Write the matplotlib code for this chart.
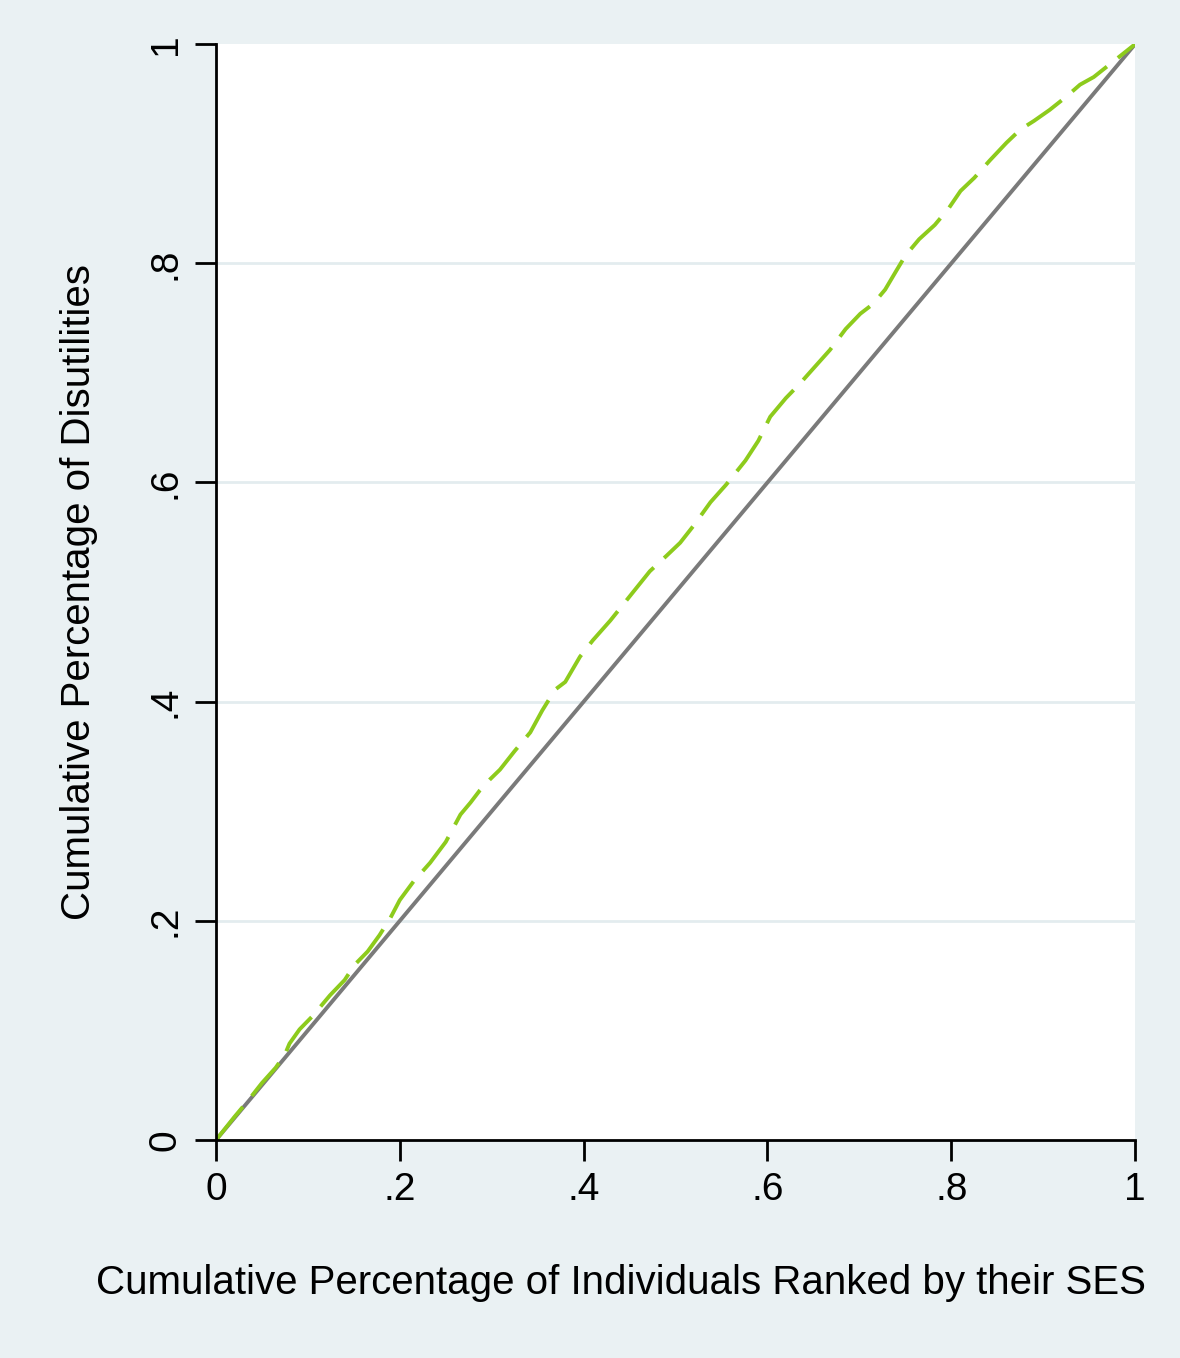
import matplotlib.pyplot as plt

# Concentration curve points
x_curve = [0, 0.02, 0.035, 0.05, 0.065, 0.075, 0.08, 0.091, 0.105, 0.124, 0.14, 0.151,
           0.165, 0.178, 0.19, 0.2, 0.215, 0.233, 0.25, 0.266, 0.277, 0.287, 0.298,
           0.309, 0.325, 0.342, 0.355, 0.369, 0.38, 0.396, 0.41, 0.429, 0.45, 0.472,
           0.49, 0.505, 0.52, 0.538, 0.555, 0.576, 0.59, 0.603, 0.62, 0.635, 0.652,
           0.668, 0.685, 0.701, 0.715, 0.728, 0.74, 0.75, 0.765, 0.782, 0.797, 0.81,
           0.825, 0.842, 0.86, 0.875, 0.89, 0.907, 0.925, 0.94, 0.955, 0.973, 0.985, 1.0]
y_curve = [0, 0.021, 0.036, 0.052, 0.066, 0.078, 0.088, 0.101, 0.113, 0.132, 0.146, 0.160,
           0.172, 0.187, 0.203, 0.219, 0.236, 0.253, 0.272, 0.297, 0.308, 0.319, 0.329,
           0.338, 0.355, 0.372, 0.392, 0.411, 0.418, 0.441, 0.456, 0.474, 0.496, 0.519,
           0.533, 0.545, 0.561, 0.582, 0.598, 0.620, 0.638, 0.660, 0.677, 0.690, 0.706,
           0.721, 0.740, 0.754, 0.763, 0.776, 0.793, 0.807, 0.822, 0.835, 0.850, 0.866,
           0.878, 0.894, 0.910, 0.922, 0.930, 0.940, 0.952, 0.963, 0.970, 0.982, 0.990, 1.0]

ticks = [0, 0.2, 0.4, 0.6, 0.8, 1]
tick_labels = ['0', '.2', '.4', '.6', '.8', '1']

plt.rcParams['font.family'] = ['Liberation Sans', 'DejaVu Sans']

bg = '#EAF1F3'
fig = plt.figure(figsize=(11.8, 13.58), dpi=100, facecolor=bg)
ax = fig.add_axes([0.183, 0.1605, 0.779, 0.807])
ax.set_facecolor('white')

# grid lines
for t in ticks[1:-1]:
    ax.axhline(t, color='#E3ECEF', lw=2, zorder=0)

ax.plot([0, 1], [0, 1], color='#7A7A7A', lw=2.8, zorder=2)
ax.plot(x_curve, y_curve, color='#8DCB1C', lw=2.8, dashes=(11, 3.6), zorder=3)

ax.set_xlim(0, 1)
ax.set_ylim(0, 1)
ax.set_xticks(ticks)
ax.set_xticklabels(tick_labels)
ax.set_yticks(ticks)
ax.set_yticklabels(tick_labels, rotation=90, va='center')
ax.tick_params(axis='both', length=15, width=2, labelsize=28, color='black', pad=8)

for s in ['top', 'right']:
    ax.spines[s].set_visible(False)
for s in ['left', 'bottom']:
    ax.spines[s].set_linewidth(2)
    ax.spines[s].set_color('black')
    ax.spines[s].set_zorder(4)

ax.set_xlabel('Cumulative Percentage of Individuals Ranked by their SES', fontsize=29)
ax.xaxis.set_label_coords(0.441, -0.113)
ax.set_ylabel('Cumulative Percentage of Disutilities', fontsize=29, labelpad=36)

plt.savefig('out.png', dpi=100, facecolor=bg)
